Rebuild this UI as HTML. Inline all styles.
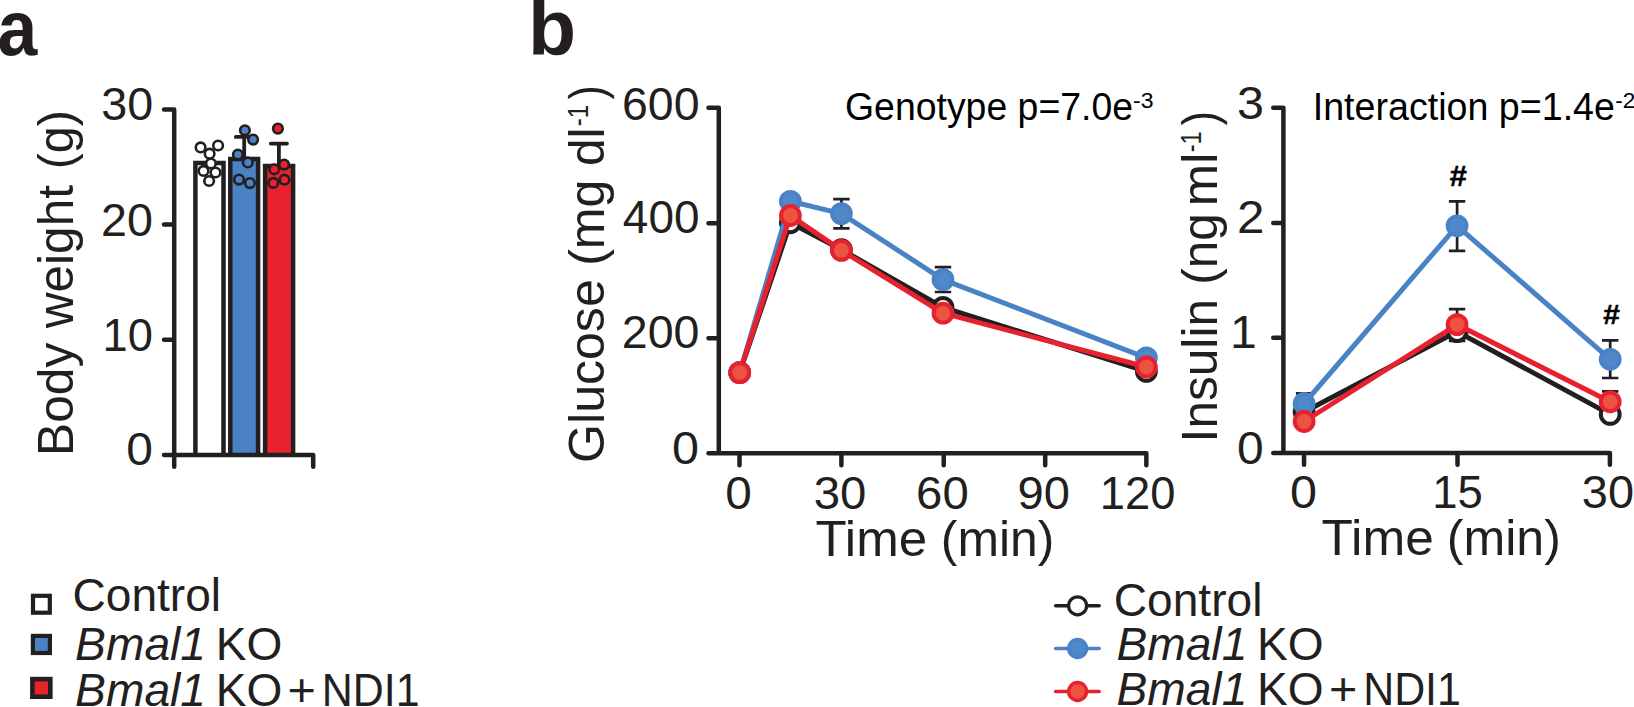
<!DOCTYPE html>
<html lang="en"><head><meta charset="utf-8"><title>Figure</title>
<style>html,body{margin:0;padding:0;background:#fff;overflow:hidden}svg{display:block}text{font-family:"Liberation Sans", sans-serif;fill:#231f20;white-space:pre}</style>
</head><body>
<svg width="1634" height="707" viewBox="0 0 1634 707" role="img" aria-label="Figure panels a and b">
<rect width="1634" height="707" fill="#fff"/>
<path d="M195.4 454.9V162.9H223.5V454.9" fill="#fff" stroke="#231f20" stroke-width="4.5" stroke-linejoin="miter"/>
<path d="M230.3 454.9V159.1H258.1V454.9" fill="#4b82c4" stroke="#231f20" stroke-width="4.5" stroke-linejoin="miter"/>
<path d="M265.1 454.9V166.0H293.1V454.9" fill="#e9222f" stroke="#231f20" stroke-width="4.5" stroke-linejoin="miter"/>
<path fill="none" stroke="#231f20" stroke-width="4.5" stroke-linecap="round" stroke-linejoin="round" d="M164.0 109.45H174.2V466.85M164.0 224.6H174.2M164.0 339.65H174.2M164.0 454.9H313.2V466.85"/>
<path fill="none" stroke="#231f20" stroke-width="3.8" stroke-linecap="round" d="M235.8 136.9H252.6M244.2 136.9V159"/>
<path fill="none" stroke="#231f20" stroke-width="3.8" stroke-linecap="round" d="M270.8 143.6H287.0M278.9 143.6V166"/>
<circle cx="200.6" cy="147.4" r="4.8" fill="#fff" stroke="#231f20" stroke-width="2.6"/><circle cx="218.1" cy="145.5" r="4.8" fill="#fff" stroke="#231f20" stroke-width="2.6"/><circle cx="209.6" cy="153.7" r="4.8" fill="#fff" stroke="#231f20" stroke-width="2.6"/><circle cx="210.9" cy="163.5" r="4.8" fill="#fff" stroke="#231f20" stroke-width="2.6"/><circle cx="203.5" cy="170.9" r="4.8" fill="#fff" stroke="#231f20" stroke-width="2.6"/><circle cx="215.5" cy="172.5" r="4.8" fill="#fff" stroke="#231f20" stroke-width="2.6"/><circle cx="209.1" cy="181.0" r="4.8" fill="#fff" stroke="#231f20" stroke-width="2.6"/>
<circle cx="244.9" cy="130.3" r="4.8" fill="#4b82c4" stroke="#231f20" stroke-width="2.6"/><circle cx="253.1" cy="139.6" r="4.8" fill="#4b82c4" stroke="#231f20" stroke-width="2.6"/><circle cx="237.9" cy="154.5" r="4.8" fill="#4b82c4" stroke="#231f20" stroke-width="2.6"/><circle cx="247.8" cy="162.4" r="4.8" fill="#4b82c4" stroke="#231f20" stroke-width="2.6"/><circle cx="239.0" cy="179.6" r="4.8" fill="#4b82c4" stroke="#231f20" stroke-width="2.6"/><circle cx="249.9" cy="183.1" r="4.8" fill="#4b82c4" stroke="#231f20" stroke-width="2.6"/>
<circle cx="277.9" cy="128.6" r="4.8" fill="#e9222f" stroke="#231f20" stroke-width="2.6"/><circle cx="284.1" cy="164.6" r="4.8" fill="#e9222f" stroke="#231f20" stroke-width="2.6"/><circle cx="274.2" cy="169.3" r="4.8" fill="#e9222f" stroke="#231f20" stroke-width="2.6"/><circle cx="284.5" cy="179.7" r="4.8" fill="#e9222f" stroke="#231f20" stroke-width="2.6"/><circle cx="273.3" cy="182.9" r="4.8" fill="#e9222f" stroke="#231f20" stroke-width="2.6"/>
<rect x="33.0" y="595.8" width="16.8" height="16.9" fill="#fff" stroke="#231f20" stroke-width="4.2"/>
<rect x="32.9" y="635.9" width="17.0" height="17.1" fill="#4b82c4" stroke="#231f20" stroke-width="4.2"/>
<rect x="32.4" y="679.1" width="17.9" height="17.6" fill="#e9222f" stroke="#231f20" stroke-width="4.6"/>
<path fill="none" stroke="#231f20" stroke-width="4.5" stroke-linecap="round" stroke-linejoin="round" d="M708.45 107.7H718.8V453.3M708.45 223.35H718.8M708.45 338.35H718.8M708.45 453.3H1146.35M739.5 453.3V465.15M841.4 453.3V465.15M943.7 453.3V465.15M1045.2 453.3V465.15M1146.35 453.3V465.15"/>
<path fill="none" stroke="#231f20" stroke-width="4.5" stroke-linecap="round" stroke-linejoin="round" d="M1273.25 107.7H1283.4V453.05M1273.25 223.1H1283.4M1273.25 337.75H1283.4M1273.25 453.05H1609.9M1304.05 453.05V464.65M1457.5 453.05V464.65M1609.9 453.05V464.65"/>
<path fill="none" stroke="#231f20" stroke-width="2.7" d="M833.2 199.2H849.6M833.2 228.4H849.6M841.4 199.2V228.4"/>
<path fill="none" stroke="#231f20" stroke-width="2.7" d="M934.8 267.2H951.2M934.8 292.0H951.2M943.0 267.2V292.0"/>
<path d="M739.7 372.6L790.4 222.8L841.4 249.6L943.0 307.4L1146.4 371.4" fill="none" stroke="#231f20" stroke-width="5.0" stroke-linejoin="round"/><circle cx="739.7" cy="372.6" r="9.4" fill="#fff" stroke="#231f20" stroke-width="4"/><circle cx="790.4" cy="222.8" r="9.4" fill="#fff" stroke="#231f20" stroke-width="4"/><circle cx="841.4" cy="249.6" r="9.4" fill="#fff" stroke="#231f20" stroke-width="4"/><circle cx="943.0" cy="307.4" r="9.4" fill="#fff" stroke="#231f20" stroke-width="4"/><circle cx="1146.4" cy="371.4" r="9.4" fill="#fff" stroke="#231f20" stroke-width="4"/>
<path d="M739.7 372.6L790.4 201.3L841.4 213.6L943.0 279.6L1146.4 357.8" fill="none" stroke="#4a83c5" stroke-width="5.0" stroke-linejoin="round"/><circle cx="739.7" cy="372.6" r="9.4" fill="#5089ca" stroke="#4a83c5" stroke-width="4"/><circle cx="790.4" cy="201.3" r="9.4" fill="#5089ca" stroke="#4a83c5" stroke-width="4"/><circle cx="841.4" cy="213.6" r="9.4" fill="#5089ca" stroke="#4a83c5" stroke-width="4"/><circle cx="943.0" cy="279.6" r="9.4" fill="#5089ca" stroke="#4a83c5" stroke-width="4"/><circle cx="1146.4" cy="357.8" r="9.4" fill="#5089ca" stroke="#4a83c5" stroke-width="4"/>
<path d="M739.7 372.6L790.4 215.5L841.4 250.4L943.0 313.2L1146.4 367.0" fill="none" stroke="#e8212f" stroke-width="5.0" stroke-linejoin="round"/><circle cx="739.7" cy="372.6" r="9.4" fill="#ea5440" stroke="#e8212f" stroke-width="4"/><circle cx="790.4" cy="215.5" r="9.4" fill="#ea5440" stroke="#e8212f" stroke-width="4"/><circle cx="841.4" cy="250.4" r="9.4" fill="#ea5440" stroke="#e8212f" stroke-width="4"/><circle cx="943.0" cy="313.2" r="9.4" fill="#ea5440" stroke="#e8212f" stroke-width="4"/><circle cx="1146.4" cy="367.0" r="9.4" fill="#ea5440" stroke="#e8212f" stroke-width="4"/>
<path fill="none" stroke="#231f20" stroke-width="2.7" d="M1295.9 393.4H1312.3M1295.9 413.6H1312.3M1304.1 393.4V413.6"/>
<path fill="none" stroke="#231f20" stroke-width="2.7" d="M1448.9 201.4H1465.3M1448.9 250.9H1465.3M1457.1 201.4V250.9"/>
<path fill="none" stroke="#231f20" stroke-width="2.7" d="M1602.0 340.3H1618.4M1602.0 378.0H1618.4M1610.2 340.3V378.0"/>
<path fill="none" stroke="#231f20" stroke-width="2.7" d="M1448.9 309.1H1465.3M1448.9 340.9H1465.3M1457.1 309.1V340.9"/>
<path fill="none" stroke="#231f20" stroke-width="2.7" d="M1602.0 391.4H1618.4M1602.0 412.0H1618.4M1610.2 391.4V412.0"/>
<path d="M1304.1 412.0L1457.1 331.6L1610.2 414.4" fill="none" stroke="#231f20" stroke-width="5.0" stroke-linejoin="round"/><circle cx="1304.1" cy="412.0" r="9.4" fill="#fff" stroke="#231f20" stroke-width="4"/><circle cx="1457.1" cy="331.6" r="9.4" fill="#fff" stroke="#231f20" stroke-width="4"/><circle cx="1610.2" cy="414.4" r="9.4" fill="#fff" stroke="#231f20" stroke-width="4"/>
<path d="M1304.1 403.5L1457.1 225.8L1610.2 359.3" fill="none" stroke="#4a83c5" stroke-width="5.0" stroke-linejoin="round"/><circle cx="1304.1" cy="403.5" r="9.4" fill="#5089ca" stroke="#4a83c5" stroke-width="4"/><circle cx="1457.1" cy="225.8" r="9.4" fill="#5089ca" stroke="#4a83c5" stroke-width="4"/><circle cx="1610.2" cy="359.3" r="9.4" fill="#5089ca" stroke="#4a83c5" stroke-width="4"/>
<path d="M1304.1 421.5L1457.1 324.6L1610.2 401.8" fill="none" stroke="#e8212f" stroke-width="5.0" stroke-linejoin="round"/><circle cx="1304.1" cy="421.5" r="9.4" fill="#ea5440" stroke="#e8212f" stroke-width="4"/><circle cx="1457.1" cy="324.6" r="9.4" fill="#ea5440" stroke="#e8212f" stroke-width="4"/><circle cx="1610.2" cy="401.8" r="9.4" fill="#ea5440" stroke="#e8212f" stroke-width="4"/>
<path d="M1055.6 605.8H1099.2" stroke="#231f20" stroke-width="3.5" stroke-linecap="round" fill="none"/><circle cx="1077.6" cy="605.8" r="9.0" fill="#fff" stroke="#231f20" stroke-width="3.3"/>
<path d="M1055.6 648.5H1099.2" stroke="#4a83c5" stroke-width="3.5" stroke-linecap="round" fill="none"/><circle cx="1077.6" cy="648.5" r="9.0" fill="#5089ca" stroke="#4a83c5" stroke-width="3.3"/>
<path d="M1055.6 691.5H1099.2" stroke="#e8212f" stroke-width="3.5" stroke-linecap="round" fill="none"/><circle cx="1077.6" cy="691.5" r="9.0" fill="#ea5440" stroke="#e8212f" stroke-width="3.3"/>
<text transform="translate(-2.52 54.77) scale(0.9245 1)" font-size="77.34" font-weight="bold">a</text>
<text transform="translate(527.96 55.05) scale(1.0181 1)" font-size="77.34" font-weight="bold">b</text>
<text transform="translate(101.27 120.34) scale(1.0081 1)" font-size="46.30">30</text>
<text transform="translate(100.95 236.24) scale(1.0086 1)" font-size="46.30">20</text>
<text transform="translate(102.55 351.44) scale(0.9762 1)" font-size="46.30">10</text>
<text transform="translate(126.22 464.54) scale(1.0358 1)" font-size="46.30">0</text>
<text transform="translate(73.10 455.99) rotate(-90) scale(0.9946 1)" font-size="50.00">Body</text>
<text transform="translate(73.10 328.19) rotate(-90) scale(0.9906 1)" font-size="50.00">weight</text>
<text transform="translate(73.10 169.32) rotate(-90) scale(0.9705 1)" font-size="50.00">(g)</text>
<text transform="translate(72.54 611.00) scale(0.9978 1)" font-size="46.20">Control</text>
<text transform="translate(75.12 659.80) scale(0.9997 1)" font-size="46.20" font-style="italic">Bmal1</text>
<text transform="translate(215.81 659.80) scale(0.9976 1)" font-size="46.20">KO</text>
<text transform="translate(75.12 705.70) scale(0.9997 1)" font-size="46.20" font-style="italic">Bmal1</text>
<text transform="translate(215.81 705.70) scale(0.9976 1)" font-size="46.20">KO</text>
<text transform="translate(287.62 705.70) scale(1.0517 1)" font-size="46.20">+</text>
<text transform="translate(321.87 705.70) scale(0.9283 1)" font-size="46.20">NDI1</text>
<text transform="translate(1113.84 616.20) scale(0.9978 1)" font-size="46.20">Control</text>
<text transform="translate(1116.42 659.50) scale(0.9997 1)" font-size="46.20" font-style="italic">Bmal1</text>
<text transform="translate(1257.11 659.50) scale(0.9976 1)" font-size="46.20">KO</text>
<text transform="translate(1116.42 705.40) scale(0.9997 1)" font-size="46.20" font-style="italic">Bmal1</text>
<text transform="translate(1257.11 705.40) scale(0.9976 1)" font-size="46.20">KO</text>
<text transform="translate(1328.92 705.40) scale(1.0517 1)" font-size="46.20">+</text>
<text transform="translate(1363.17 705.40) scale(0.9283 1)" font-size="46.20">NDI1</text>
<text transform="translate(621.92 119.54) scale(1.0046 1)" font-size="46.30">600</text>
<text transform="translate(622.84 233.44) scale(0.9925 1)" font-size="46.30">400</text>
<text transform="translate(621.85 348.44) scale(1.0055 1)" font-size="46.30">200</text>
<text transform="translate(672.10 464.34) scale(1.0494 1)" font-size="46.30">0</text>
<text transform="translate(725.23 509.24) scale(1.0313 1)" font-size="46.30">0</text>
<text transform="translate(813.74 509.24) scale(1.0228 1)" font-size="46.30">30</text>
<text transform="translate(916.08 509.24) scale(1.0220 1)" font-size="46.30">60</text>
<text transform="translate(1017.47 509.24) scale(1.0182 1)" font-size="46.30">90</text>
<text transform="translate(1099.84 509.26) scale(0.9791 1)" font-size="46.30">120</text>
<text transform="translate(815.54 555.70) scale(1.0161 1)" font-size="50.30">Time</text>
<text transform="translate(940.79 555.70) scale(0.9916 1)" font-size="50.30">(min)</text>
<text transform="translate(604.00 462.94) rotate(-90) scale(1.0018 1)" font-size="50.00">Glucose</text>
<text transform="translate(604.00 265.82) rotate(-90) scale(1.0016 1)" font-size="50.00">(mg</text>
<text transform="translate(604.00 166.10) rotate(-90) scale(0.9916 1)" font-size="50.00">dl</text>
<text transform="translate(588.10 126.27) rotate(-90) scale(0.8123 1)" font-size="29.57">-1</text>
<text transform="translate(604.00 99.49) rotate(-90) scale(0.8560 1)" font-size="50.00">)</text>
<text transform="translate(845.01 119.90) scale(0.9795 1)" font-size="38.20" style="fill:#000">Genotype p=7.0e</text>
<text transform="translate(1133.08 108.18) scale(1.0540 1)" font-size="21.83" style="fill:#000">-3</text>
<text transform="translate(1237.10 119.34) scale(1.0468 1)" font-size="46.30">3</text>
<text transform="translate(1236.91 233.00) scale(1.0671 1)" font-size="46.30">2</text>
<text transform="translate(1229.88 347.90) scale(1.0400 1)" font-size="46.30">1</text>
<text transform="translate(1237.12 463.54) scale(1.0358 1)" font-size="46.30">0</text>
<text transform="translate(1290.10 508.14) scale(1.0494 1)" font-size="46.30">0</text>
<text transform="translate(1432.23 508.14) scale(0.9836 1)" font-size="46.30">15</text>
<text transform="translate(1581.86 508.14) scale(1.0144 1)" font-size="46.30">30</text>
<text transform="translate(1321.54 554.70) scale(1.0217 1)" font-size="50.30">Time</text>
<text transform="translate(1446.78 554.70) scale(0.9962 1)" font-size="50.30">(min)</text>
<text transform="translate(1216.90 442.39) rotate(-90) scale(0.9921 1)" font-size="50.00">Insulin</text>
<text transform="translate(1216.90 284.69) rotate(-90) scale(0.9905 1)" font-size="50.00">(ng</text>
<text transform="translate(1216.90 206.31) rotate(-90) scale(1.0188 1)" font-size="50.00">ml</text>
<text transform="translate(1201.00 152.25) rotate(-90) scale(0.8072 1)" font-size="29.13">-1</text>
<text transform="translate(1216.90 125.49) rotate(-90) scale(0.8713 1)" font-size="50.00">)</text>
<text transform="translate(1312.72 119.80) scale(0.9849 1)" font-size="38.20" style="fill:#000">Interaction p=1.4e</text>
<text transform="translate(1615.30 107.90) scale(1.0330 1)" font-size="21.83" style="fill:#000">-2</text>
<text transform="translate(1449.31 185.55) scale(1.0805 1)" font-size="28.68" font-weight="bold" font-style="italic" style="fill:#000" stroke="#000" stroke-width="0.4">#</text>
<text transform="translate(1602.64 324.14) scale(1.0978 1)" font-size="27.36" font-weight="bold" font-style="italic" style="fill:#000" stroke="#000" stroke-width="0.4">#</text>
</svg>
</body></html>
